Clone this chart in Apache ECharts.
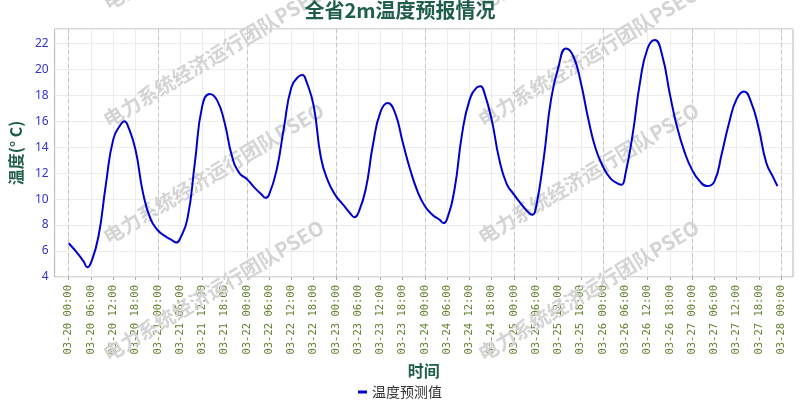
<!DOCTYPE html>
<html><head><meta charset="utf-8">
<script src="https://cdn.jsdelivr.net/npm/echarts@6/dist/echarts.min.js"></script>
<style>html,body{margin:0;padding:0;background:#fff}#c{width:800px;height:400px}</style>
</head><body><div id="c"></div>
<script>
// forecast times (month-day hour) and 2m temperature forecast values (°C)
const times = [
 '03-20 00:00','03-20 02:00','03-20 04:00','03-20 05:00','03-20 06:00','03-20 08:00','03-20 10:00','03-20 12:00','03-20 14:00','03-20 15:00','03-20 16:00','03-20 18:00','03-20 20:00','03-20 22:00',
 '03-21 00:00','03-21 02:00','03-21 04:00','03-21 05:00','03-21 06:00','03-21 08:00','03-21 10:00','03-21 12:00','03-21 14:00','03-21 16:00','03-21 18:00','03-21 20:00','03-21 22:00',
 '03-22 00:00','03-22 02:00','03-22 04:00','03-22 05:00','03-22 06:00','03-22 08:00','03-22 10:00','03-22 12:00','03-22 14:00','03-22 15:00','03-22 16:00','03-22 18:00','03-22 20:00','03-22 22:00',
 '03-23 00:00','03-23 02:00','03-23 04:00','03-23 05:00','03-23 06:00','03-23 08:00','03-23 10:00','03-23 12:00','03-23 14:00','03-23 16:00','03-23 18:00','03-23 20:00','03-23 22:00',
 '03-24 00:00','03-24 02:00','03-24 04:00','03-24 05:00','03-24 06:00','03-24 08:00','03-24 10:00','03-24 12:00','03-24 14:00','03-24 15:00','03-24 16:00','03-24 18:00','03-24 20:00','03-24 22:00',
 '03-25 00:00','03-25 02:00','03-25 04:00','03-25 05:00','03-25 06:00','03-25 08:00','03-25 10:00','03-25 12:00','03-25 14:00','03-25 16:00','03-25 18:00','03-25 20:00','03-25 22:00',
 '03-26 00:00','03-26 02:00','03-26 04:00','03-26 05:00','03-26 06:00','03-26 08:00','03-26 10:00','03-26 12:00','03-26 14:00','03-26 16:00','03-26 18:00','03-26 20:00','03-26 22:00',
 '03-27 00:00','03-27 02:00','03-27 04:00','03-27 06:00','03-27 08:00','03-27 10:00','03-27 12:00','03-27 14:00','03-27 16:00','03-27 18:00','03-27 20:00','03-27 22:00','03-27 23:00'
];
const temps = [
 6.6, 5.95, 5.2, 4.75, 5.1, 7.1, 11.1, 14.6, 15.75, 16.0, 15.6, 13.8, 10.5, 8.5,
 7.6, 7.15, 6.8, 6.65, 6.95, 8.5, 12.8, 17.2, 18.1, 17.6, 15.9, 13.3, 12.0,
 11.55, 10.9, 10.35, 10.1, 10.35, 12.2, 15.5, 18.6, 19.45, 19.55, 19.1, 17.2, 13.15, 11.3,
 10.25, 9.55, 8.85, 8.6, 8.9, 10.7, 14.2, 16.7, 17.4, 16.6, 14.4, 12.3, 10.6,
 9.45, 8.8, 8.4, 8.15, 8.5, 10.8, 15.0, 17.6, 18.6, 18.7, 18.2, 16.1, 13.1, 11.2,
 10.35, 9.6, 8.95, 8.8, 9.45, 13.1, 17.7, 20.2, 21.6, 21.0, 19.0, 16.2, 13.9,
 12.5, 11.6, 11.2, 11.1, 11.87, 15.0, 19.05, 21.6, 22.25, 21.0, 18.1, 15.5, 13.6,
 12.25, 11.4, 11.0, 11.35, 13.5, 15.9, 17.7, 18.28, 17.4, 15.4, 12.8, 11.6, 11.0
];
const xTickLabels = [
 '03-20 00:00','03-20 06:00','03-20 12:00','03-20 18:00','03-21 00:00','03-21 06:00','03-21 12:00','03-21 18:00',
 '03-22 00:00','03-22 06:00','03-22 12:00','03-22 18:00','03-23 00:00','03-23 06:00','03-23 12:00','03-23 18:00',
 '03-24 00:00','03-24 06:00','03-24 12:00','03-24 18:00','03-25 00:00','03-25 06:00','03-25 12:00','03-25 18:00',
 '03-26 00:00','03-26 06:00','03-26 12:00','03-26 18:00','03-27 00:00','03-27 06:00','03-27 12:00','03-27 18:00',
 '03-28 00:00'
];
const yTickValues = [4, 6, 8, 10, 12, 14, 16, 18, 20, 22];
const watermarkText = '电力系统经济运行团队PSEO';

function toHours(s) {
  const m = s.match(/(\d+)-(\d+) (\d+):(\d+)/);
  return (parseInt(m[2], 10) - 20) * 24 + parseInt(m[3], 10) + parseInt(m[4], 10) / 60;
}
const seriesData = times.map((t, i) => [toHours(t), temps[i]]);
const tickHours = xTickLabels.map(toHours);
const dayHours = xTickLabels.filter(s => s.endsWith('00:00')).map(toHours);
const labelByHour = {};
xTickLabels.forEach((s, i) => { labelByHour[tickHours[i]] = s; });

const chart = echarts.init(document.getElementById('c'));
const green = '#1f5e4c';
const wm = [];
[110, 485].forEach(x => {
  [13, 130, 247, 364].forEach(y => {
    wm.push({
      type: 'text', x: x, y: y, rotation: 0.54, z: 1, silent: true,
      style: { text: watermarkText, fill: '#d4d4d4', font: 'bold 20px "Noto Sans CJK SC"', align: 'left', verticalAlign: 'bottom' }
    });
  });
});

chart.setOption({
  animation: false,
  backgroundColor: '#fff',
  title: {
    text: '全省2m温度预报情况', left: 'center', top: 0, padding: 0,
    textStyle: { color: green, fontSize: 20, fontWeight: 'bold', fontFamily: 'Noto Sans CJK SC' }
  },
  grid: { left: 45, right: 7, top: 29, bottom: 123, show: true, borderColor: '#b4b4b4', borderWidth: 1, containLabel: false },
  legend: {
    data: ['温度预测值'], left: 'center', top: 380, icon: 'rect', itemWidth: 9, itemHeight: 3,
    textStyle: { fontSize: 14, color: '#333', fontFamily: 'Noto Sans CJK SC' }
  },
  graphic: wm,
  xAxis: [{
    type: 'value', min: -3.8, max: 195.2,
    name: '时间', nameLocation: 'middle', nameGap: 79,
    nameTextStyle: { color: green, fontSize: 16, fontWeight: 'bold', fontFamily: 'Noto Sans CJK SC' },
    axisLine: { show: false },
    axisTick: { show: true, customValues: tickHours, length: 3, lineStyle: { color: '#aaa' } },
    axisLabel: {
      customValues: tickHours, rotate: 90, margin: 8, fontSize: 10.5, color: '#62822f',
      fontFamily: 'DejaVu Sans Mono',
      formatter: v => labelByHour[Math.round(v)] || ''
    },
    splitLine: { show: true, lineStyle: { color: '#ececec', width: 1 } }
  }, {
    type: 'value', min: -3.8, max: 195.2, position: 'bottom',
    axisLine: { show: false }, axisLabel: { show: false },
    axisTick: { show: false, customValues: dayHours },
    splitLine: { show: true, lineStyle: { color: '#c4c4c4', width: 1, type: [4, 3] } }
  }],
  yAxis: {
    type: 'value', min: 4, max: 23.1, interval: 2,
    name: '温度(° C)', nameLocation: 'middle', nameGap: 21,
    nameTextStyle: { color: green, fontSize: 16, fontWeight: 'bold', fontFamily: 'Noto Sans CJK SC' },
    axisLine: { show: false }, axisTick: { show: false },
    axisLabel: { color: '#3333cc', fontSize: 12, margin: 6, fontFamily: 'Noto Sans', showMaxLabel: false,
      formatter: v => (yTickValues.indexOf(v) >= 0 ? String(v) : '') },
    splitLine: { show: true, lineStyle: { color: '#ececec', width: 1 } }
  },
  series: [{
    name: '温度预测值', type: 'line', xAxisIndex: 0, data: seriesData, smooth: 0.5,
    showSymbol: false, symbol: 'none', z: 3,
    lineStyle: { color: '#0000cc', width: 2 }, itemStyle: { color: '#0000cc' }
  }]
});
</script></body></html>
